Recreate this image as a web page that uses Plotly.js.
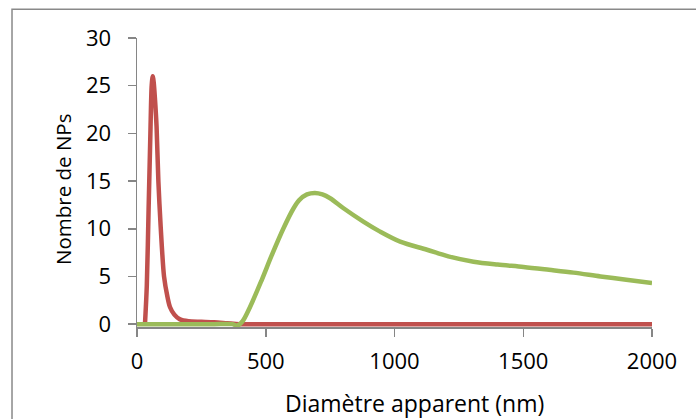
<!DOCTYPE html>
<html>
<head>
<meta charset="utf-8">
<script src="https://cdn.plot.ly/plotly-3.0.1.min.js"></script>
<style>
html,body{margin:0;padding:0;background:#fff;}
#chart{width:696px;height:419px;}
</style>
</head>
<body>
<div id="chart"></div>
<script>
// Red series (small particles)
var redX = [31, 38, 45, 52, 57, 61, 65, 70, 76, 83, 92, 105, 118, 128, 145, 167, 200, 250, 300, 350, 400, 600, 800, 1000, 1200, 1400, 1600, 1800, 2000];
var redY = [0, 4, 12, 20, 25, 26, 25.3, 23.5, 20.7, 15, 10.2, 5, 2.9, 1.8, 1.0, 0.5, 0.3, 0.25, 0.2, 0.1, 0, 0, 0, 0, 0, 0, 0, 0, 0];

// Green series (large particles)
var greenX = [0, 100, 200, 300, 370, 390, 410, 439, 484, 523, 568, 607, 630, 660, 691, 720, 750, 802, 879, 944, 1022, 1126, 1209, 1307, 1400, 1501, 1600, 1695, 1800, 1900, 2000];
var greenY = [0, 0, 0, 0, 0, -0.15, 0.3, 1.8, 4.6, 7.2, 10.0, 12.1, 13.0, 13.6, 13.75, 13.6, 13.2, 12.15, 10.75, 9.7, 8.65, 7.8, 7.1, 6.55, 6.25, 6.0, 5.7, 5.4, 5.0, 4.65, 4.3];

var xTicks = [0, 500, 1000, 1500, 2000];
var yTicks = [0, 5, 10, 15, 20, 25, 30];
var xTitle = 'Diamètre apparent (nm)';
var yTitle = 'Nombre de NPs';

var fontFam = "Open Sans, sans-serif";

var traces = [
  {x: redX, y: redY, mode: 'lines', type: 'scatter',
   line: {color: '#C0504D', width: 4.5, shape: 'spline', smoothing: 0.8}, hoverinfo: 'skip'},
  {x: greenX, y: greenY, mode: 'lines', type: 'scatter',
   line: {color: '#9BBB59', width: 4.5, shape: 'spline', smoothing: 0.9}, hoverinfo: 'skip'}
];

var axisColor = '#868686';
var layout = {
  width: 696, height: 419,
  margin: {l: 137, r: 44, t: 38, b: 92},
  paper_bgcolor: '#fff', plot_bgcolor: '#fff',
  showlegend: false,
  font: {family: fontFam, color: '#000', size: 22},
  xaxis: {
    range: [0, 2000], tickvals: xTicks, ticktext: xTicks.map(String),
    showgrid: false, zeroline: false, showline: true, linecolor: axisColor, linewidth: 1.5,
    ticks: 'outside', ticklen: 8, tickcolor: axisColor, tickwidth: 1.5,
    ticklabelstandoff: 6,
    tickfont: {family: fontFam, size: 22, color: '#000'}
  },
  yaxis: {
    range: [-0.3, 30], tickvals: yTicks, ticktext: yTicks.map(String),
    showgrid: false, zeroline: false, showline: true, linecolor: axisColor, linewidth: 1.5,
    ticks: 'outside', ticklen: 8, tickcolor: axisColor, tickwidth: 1.5,
    ticklabelstandoff: 12,
    tickfont: {family: fontFam, size: 22, color: '#000'}
  },
  annotations: [
    {text: xTitle, xref: 'paper', yref: 'paper', x: 0.538, y: -0.263,
     xanchor: 'center', yanchor: 'middle', showarrow: false,
     font: {family: fontFam, size: 23, color: '#000'}},
    {text: yTitle, xref: 'paper', yref: 'paper', x: -0.1437, y: 0.4775,
     xanchor: 'center', yanchor: 'middle', showarrow: false, textangle: -90,
     font: {family: fontFam, size: 20.5, color: '#000'}}
  ],
  shapes: [{
    type: 'rect', xref: 'paper', yref: 'paper',
    x0: -0.2427, x1: 1.2, y0: -0.5, y1: 1.0994,
    line: {color: '#898989', width: 1.5}, fillcolor: 'rgba(0,0,0,0)', layer: 'below'
  }]
};

Plotly.newPlot('chart', traces, layout, {staticPlot: true, displayModeBar: false});
</script>
</body>
</html>
